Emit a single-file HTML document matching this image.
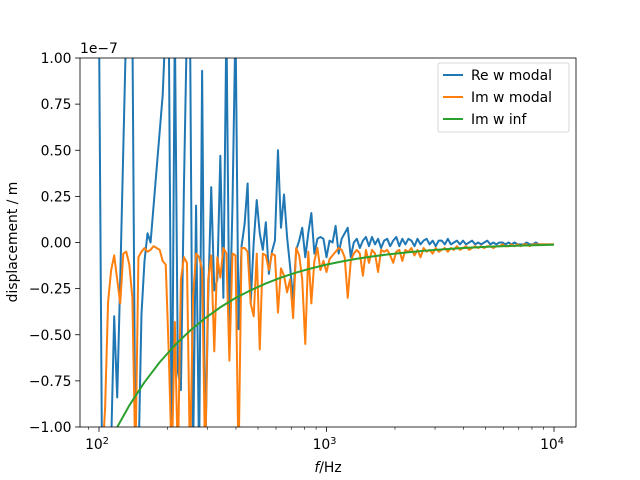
<!DOCTYPE html>
<html><head><meta charset="utf-8"><style>
html,body{margin:0;padding:0;width:640px;height:480px;overflow:hidden;background:#fff}
svg{display:block;font-family:"DejaVu Sans","Liberation Sans",sans-serif}
</style></head><body>
<svg id="chart" width="640" height="480" viewBox="0 0 640 480">
<defs><clipPath id="pc"><rect x="80" y="58" width="496" height="369"/></clipPath></defs>
<rect x="0" y="0" width="640" height="480" fill="#fff"/>
<g id="series" clip-path="url(#pc)"></g>
<rect x="80" y="58" width="496" height="369" fill="none" stroke="#000" stroke-width="0.8"/>
<g id="axes"></g>
<text x="80" y="53" font-size="13.9">1e−7</text>
<text x="17" y="242" font-size="13.9" transform="rotate(-90 17 242)" text-anchor="middle">displacement / m</text>
<text x="328" y="472" font-size="13.9" text-anchor="middle"><tspan font-style="italic">f</tspan>/Hz</text>
<g>
<rect x="438" y="63" width="131" height="69" rx="2" fill="#fff" fill-opacity="0.8" stroke="#ccc" stroke-width="0.8"/>
<g><line x1="443" y1="75" x2="463" y2="75" stroke="#1f77b4" stroke-width="2"/><text x="471" y="80" font-size="13.9">Re w modal</text></g>
<g><line x1="443" y1="97" x2="463" y2="97" stroke="#ff7f0e" stroke-width="2"/><text x="471" y="102" font-size="13.9">Im w modal</text></g>
<g><line x1="443" y1="119" x2="463" y2="119" stroke="#2ca02c" stroke-width="2"/><text x="471" y="124" font-size="13.9">Im w inf</text></g>
</g>
</svg>
<script>
// data (values in units of 1e-7 m), sampled at 75 log-spaced points per decade from 100 Hz
const nPoints = 151;
const reModal = [2.0,-2.0,-1.5,-1.2,-1.1,-0.4,-0.84,-0.2,0.5,1.2,1.5,1.5,-1.5,-1.2,-0.39,-0.1,0.05,0.0,0.2,0.4,
0.6,0.8,1.2,1.5,-1.5,1.5,-0.7,-0.8,0.3,1.5,1.5,-1.5,0.2,-1.5,0.93,-1.5,-0.3,0.3,-0.26,-0.2,
0.47,-0.3,1.5,-0.5,0.2,1.5,-0.47,-0.02,0.1,0.32,-0.33,0.0,0.23,0.05,-0.04,0.11,-0.17,-0.05,0.01,0.50,
0.08,0.26,0.03,-0.13,-0.31,-0.04,0.01,0.08,-0.08,0.05,0.16,-0.06,0.02,0.03,0.02,-0.08,0.01,0.0,0.09,-0.06,
0.02,0.05,0.08,-0.08,0.0,0.02,-0.03,0.01,0.03,-0.02,0.03,-0.01,0.02,-0.03,0.01,0.02,-0.02,0.01,0.03,-0.02,
0.02,-0.01,0.02,0.01,-0.02,0.02,-0.01,0.01,0.02,-0.01,0.01,-0.02,0.01,0.01,-0.01,0.02,-0.01,0.0,0.01,-0.01,
0.01,-0.01,0.0,0.01,-0.01,0.0,-0.01,0.0,0.01,-0.01,0.0,-0.01,0.0,0.0,-0.01,0.0,-0.01,0.0,-0.01,-0.01,
-0.01,0.0,-0.01,-0.01,0.0,-0.01,-0.01,-0.01,-0.01,-0.01,-0.01];
const imModal = [-1.5,-1.5,-0.9,-0.32,-0.15,-0.07,-0.2,-0.33,-0.06,-0.05,-0.12,-0.3,-1.5,-0.08,-0.05,-0.03,-0.05,-0.04,-0.02,-0.03,
-0.04,-0.10,-0.12,-0.6,-1.5,-0.43,-1.5,-0.2,-0.08,-0.11,-1.5,-0.3,-0.06,-0.08,-0.15,-1.5,-0.2,-0.07,-0.59,-0.08,
-0.19,-0.03,-0.06,-0.64,-0.06,-0.07,-1.5,-0.03,-0.03,-0.05,-0.33,-0.40,-0.06,-0.58,-0.06,-0.07,-0.15,-0.06,-0.07,-0.38,
-0.14,-0.18,-0.27,-0.2,-0.41,-0.03,-0.07,-0.2,-0.55,-0.05,-0.33,-0.1,-0.03,-0.15,-0.1,-0.16,-0.09,-0.07,-0.05,-0.03,
-0.04,-0.08,-0.30,-0.1,-0.06,-0.04,-0.06,-0.18,-0.04,-0.11,-0.04,-0.06,-0.16,-0.04,-0.05,-0.04,-0.07,-0.11,-0.05,-0.04,
-0.10,-0.04,-0.05,-0.03,-0.07,-0.04,-0.08,-0.03,-0.05,-0.04,-0.06,-0.03,-0.05,-0.04,-0.03,-0.05,-0.03,-0.04,-0.02,-0.04,
-0.03,-0.02,-0.04,-0.03,-0.02,-0.03,-0.02,-0.03,-0.02,-0.02,-0.03,-0.02,-0.02,-0.01,-0.02,-0.02,-0.01,-0.02,-0.01,-0.02,
-0.01,-0.01,-0.02,-0.01,-0.01,-0.01,-0.01,-0.01,-0.01,-0.01,-0.01];
// Im w inf sampled every 5th point
const imInf = [-1.20,-1.03,-0.883,-0.757,-0.649,-0.557,-0.478,-0.410,-0.351,-0.301,-0.259,-0.222,-0.190,-0.163,-0.140,-0.120,
-0.103,-0.088,-0.076,-0.065,-0.056,-0.048,-0.041,-0.035,-0.030,-0.026,-0.022,-0.019,-0.016,-0.014,-0.012];
const yTicks = [-1.00,-0.75,-0.50,-0.25,0.00,0.25,0.50,0.75,1.00];
const xMajor = [100,1000,10000];
const xMajorLabels = ["2","3","4"];

const freq = [];
for (let i = 0; i < nPoints; i++) freq.push(100 * Math.pow(10, i / 75));
const freqInf = [];
for (let i = 0; i < imInf.length; i++) freqInf.push(100 * Math.pow(10, i * 5 / 75));

const X0 = 99, DEC = 227.5, Y0 = 242.5, YS = 184.5;
const xs = f => X0 + DEC * (Math.log10(f) - 2);
const ys = v => Y0 - YS * v;
const NS = "http://www.w3.org/2000/svg";
const ser = document.getElementById('series');
const axes = document.getElementById('axes');

function line(fs, vs, color, name) {
  const p = document.createElementNS(NS, 'polyline');
  p.setAttribute('points', vs.map((v, i) => xs(fs[i]).toFixed(2) + ',' + ys(Math.max(-1.2, Math.min(1.2, v))).toFixed(2)).join(' '));
  p.setAttribute('fill', 'none');
  p.setAttribute('stroke', color);
  p.setAttribute('stroke-width', '2');
  p.setAttribute('stroke-linejoin', 'round');
  
  
  ser.appendChild(p);
}
line(freq, reModal, '#1f77b4', 're-w-modal-line');
line(freq, imModal, '#ff7f0e', 'im-w-modal-line');
line(freqInf, imInf, '#2ca02c', 'im-w-inf-line');

function mk(tag, attrs) {
  const e = document.createElementNS(NS, tag);
  for (const k in attrs) e.setAttribute(k, attrs[k]);
  axes.appendChild(e);
  return e;
}
yTicks.forEach(v => {
  const y = ys(v);
  const t = mk('line', {x1: 75.1, x2: 80, y1: y, y2: y, stroke: '#000', 'stroke-width': 0.8});
  
  
  const l = mk('text', {x: 71.5, y: y + 5, 'font-size': 13.9, 'text-anchor': 'end'});
  
  
  l.textContent = v.toFixed(2).replace('-', '−');
});
xMajor.forEach((f, i) => {
  const x = xs(f);
  const t = mk('line', {x1: x, x2: x, y1: 427, y2: 431.9, stroke: '#000', 'stroke-width': 0.8});
  
  
  const l = mk('text', {x: x - 2, y: 449, 'font-size': 13.9, 'text-anchor': 'middle'});
  
  
  l.innerHTML = '10<tspan font-size="9.7" dy="-5">' + xMajorLabels[i] + '</tspan>';
});
for (let d = 10; d <= 10000; d *= 10) {
  for (let m = 2; m <= 9; m++) {
    const f = d * m, x = xs(f);
    if (x < 80 || x > 576) continue;
    const t = mk('line', {x1: x, x2: x, y1: 427, y2: 429.8, stroke: '#000', 'stroke-width': 0.6});
    
    
  }
}
</script>
</body></html>
